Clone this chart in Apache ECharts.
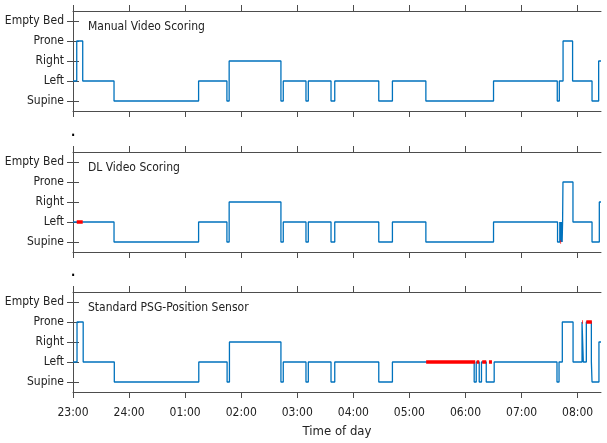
<!DOCTYPE html>
<html><head><meta charset="utf-8">
<script src="https://cdn.jsdelivr.net/npm/echarts@6/dist/echarts.min.js"></script>
<style>html,body{margin:0;padding:0;background:#fff}#c{width:607px;height:443px}</style>
</head><body><div id="c"></div>
<script>
// ---- data ----
const stateLabels = ['Supine', 'Left', 'Right', 'Prone', 'Empty Bed'];
const timeTickLabels = ['23:00','24:00','01:00','02:00','03:00','04:00','05:00','06:00','07:00','08:00'];
const panelTitles = ['Manual Video Scoring', 'DL Video Scoring', 'Standard PSG-Position Sensor'];
const endMinute = 565; // minutes after 23:00 where recording ends

// transitions: minutes after 23:00, and state entered at that time
const manualTimes  = [0, 4, 10.4, 43.9, 134.4, 164.7, 167.1, 222.5, 225, 249.3, 251.8, 276.1, 280.1, 327.2, 341.8, 377.6, 450, 518.2, 520.4, 524.4, 534.6, 555.4, 562.5];
const manualStates = ['Left','Prone','Left','Supine','Left','Supine','Right','Supine','Left','Supine','Left','Supine','Left','Supine','Left','Supine','Left','Supine','Left','Prone','Left','Supine','Right'];

const dlTimes  = [0, 43.9, 134.4, 164.7, 167.1, 222.5, 225, 249.3, 251.8, 276.1, 280.1, 327.2, 341.8, 377.6, 450, 518.5, 520.9, 521.4, 521.9, 522.4, 522.9, 523.4, 523.9, 524.3, 535.0, 555.4, 563.2];
const dlStates = ['Left','Supine','Left','Supine','Right','Supine','Left','Supine','Left','Supine','Left','Supine','Left','Supine','Left','Supine','Left','Supine','Left','Supine','Left','Supine','Left','Prone','Left','Supine','Right'];

const psgTimes  = [0, 4.3, 10.9, 44.2, 134.6, 164.9, 167.4, 222.5, 225, 249.3, 251.8, 276.1, 280.1, 327.2, 341.8, 429.3, 431.5, 434.7, 437.1, 442.2, 450.7, 517.9, 520.1, 523.6, 535.1, 544.7, 546.1, 549.3, 554.7, 555.4, 562.8];
const psgStates = ['Left','Prone','Left','Supine','Left','Supine','Right','Supine','Left','Supine','Left','Supine','Left','Supine','Left','Supine','Left','Supine','Left','Supine','Left','Supine','Left','Prone','Left','Prone','Left','Prone','Left','Supine','Right'];

// mismatch (red) segments
const dlMismatchStart = [4, 521.5];
const dlMismatchEnd   = [10.4, 522.3];
const dlMismatchState = ['Left', 'Supine'];

const psgMismatchStart = [377.9, 432.0, 437.9, 445.1, 544.7, 549.3];
const psgMismatchEnd   = [430.4, 434.7, 442.2, 448.3, 545.5, 555.2];
const psgMismatchState = ['Left', 'Left', 'Left', 'Left', 'Prone', 'Prone'];

// ---- chart ----
const FONT = "'Liberation Sans Narrow','Arial Narrow','DejaVu Sans Condensed',sans-serif";
const TXT = '#222';
const AX = '#4d4d4d';
const tickValues = timeTickLabels.map((_, i) => i * 60);
const gridTops = [11, 152, 292];

function stepData(times, states) {
  const d = times.map((t, i) => [t, stateLabels.indexOf(states[i])]);
  d.push([endMinute, stateLabels.indexOf(states[states.length - 1])]);
  return d;
}

const panels = [
  { times: manualTimes, states: manualStates, ms: [], me: [], mst: [] },
  { times: dlTimes, states: dlStates, ms: dlMismatchStart, me: dlMismatchEnd, mst: dlMismatchState },
  { times: psgTimes, states: psgStates, ms: psgMismatchStart, me: psgMismatchEnd, mst: psgMismatchState }
];

const grid = [], xAxis = [], yAxis = [], series = [], title = [];
panels.forEach((p, i) => {
  grid.push({ left: 73, right: 6, top: gridTops[i], height: 100, show: false });
  const last = i === panels.length - 1;
  ['bottom', 'top'].forEach(pos => {
    const showLab = last && pos === 'bottom';
    xAxis.push({
      type: 'value', gridIndex: i, position: pos, min: 0, max: endMinute,
      axisLine: { show: true, onZero: false, lineStyle: { color: AX, width: 1 } },
      axisTick: { show: true, length: 6, customValues: tickValues, lineStyle: { color: AX } },
      axisLabel: {
        show: showLab, customValues: tickValues, margin: 15,
        fontFamily: FONT, fontSize: 12, color: TXT,
        formatter: v => timeTickLabels[Math.round(v / 60)]
      },
      splitLine: { show: false },
      name: showLab ? 'Time of day' : '', nameLocation: 'middle', nameGap: 33,
      nameTextStyle: { fontFamily: FONT, fontSize: 13, color: TXT }
    });
  });
  ['left', 'right'].forEach(pos => {
    yAxis.push({
      type: 'category', gridIndex: i, position: pos, data: stateLabels, boundaryGap: true,
      axisLine: { show: true, lineStyle: { color: AX, width: 1 } },
      axisTick: { show: true, alignWithLabel: true, length: 6, lineStyle: { color: AX } },
      axisLabel: { show: pos === 'left', margin: 9, fontFamily: FONT, fontSize: 12, color: TXT },
      splitLine: { show: false }
    });
  });
  series.push({
    type: 'line', xAxisIndex: 2 * i, yAxisIndex: 2 * i, step: 'start',
    data: stepData(p.times, p.states), symbol: 'none', showSymbol: false,
    lineStyle: { color: '#0072BD', width: 1.3 }, z: 2, animation: false
  });
  p.ms.forEach((s, k) => {
    const yi = stateLabels.indexOf(p.mst[k]);
    series.push({
      type: 'line', xAxisIndex: 2 * i, yAxisIndex: 2 * i,
      data: [[s, yi], [p.me[k], yi]], symbol: 'none', showSymbol: false,
      lineStyle: { color: '#ff0000', width: 3.5, cap: 'butt' }, z: 3, animation: false
    });
  });
  title.push({
    text: panelTitles[i], left: 88, top: gridTops[i] + 9.5, padding: 0,
    textStyle: { fontFamily: FONT, fontSize: 12, fontWeight: 'normal', color: TXT }
  });
  if (i > 0) {
    title.push({
      text: '.', left: 71, top: gridTops[i] - 26, padding: 0,
      textStyle: { fontFamily: FONT, fontSize: 12.5, fontWeight: 'bold', color: '#000' }
    });
  }
});

const chart = echarts.init(document.getElementById('c'), null, { renderer: 'canvas' });
chart.setOption({ animation: false, backgroundColor: '#fff', title, grid, xAxis, yAxis, series });
</script>
</body></html>
